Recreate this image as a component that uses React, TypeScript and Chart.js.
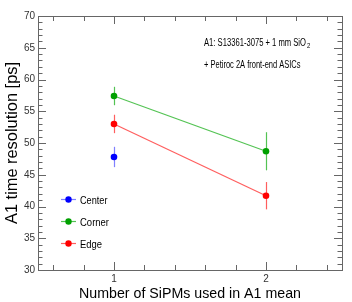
import React, { useEffect, useRef } from "react";
import { Chart, registerables } from "chart.js";

Chart.register(...registerables);

// ---- data ----
const seriesNames = ["Center", "Corner", "Edge"];
const seriesColors = ["#0000ff", "#00a000", "#ff0000"];
const seriesLineColors = ["rgba(60,60,255,0.65)", "rgba(40,180,40,0.8)", "rgba(255,40,40,0.75)"];

const xCenter = [1];
const yCenter = [47.8];
const eCenter = [1.6];

const xCorner = [1, 2];
const yCorner = [57.4, 48.7];
const eCorner = [1.45, 3.0];

const xEdge = [1, 2];
const yEdge = [53.0, 41.7];
const eEdge = [1.45, 2.15];

const yTickValues = [30, 35, 40, 45, 50, 55, 60, 65, 70];
const xTickValues = [1, 2];

const xTitle = "Number of SiPMs used in A1 mean";
const yTitle = "A1 time resolution [ps]";
const noteLine1 = "A1: S13361-3075 + 1 mm SiO";
const noteLine1Sub = "2";
const noteLine2 = "+ Petiroc 2A front-end ASICs";

const FONT = '"Liberation Sans", Arial, Helvetica, sans-serif';

function fitText(
  ctx: CanvasRenderingContext2D,
  text: string,
  x: number,
  y: number,
  size: number,
  width: number,
  align: "left" | "center" = "left"
) {
  ctx.font = `${size}px ${FONT}`;
  const w = ctx.measureText(text).width;
  const sx = width / w;
  ctx.save();
  ctx.translate(x, y);
  ctx.scale(sx, 1);
  ctx.textAlign = "left";
  ctx.textBaseline = "alphabetic";
  ctx.fillText(text, align === "center" ? -w / 2 : 0, 0);
  ctx.restore();
}

const rootPlugin = {
  id: "rootStyle",
  beforeDatasetsDraw(chart: any) {
    const ctx = chart.ctx as CanvasRenderingContext2D;
    const xs = chart.scales.x;
    const ys = chart.scales.y;
    const sets = [
      [xCenter, yCenter, eCenter],
      [xCorner, yCorner, eCorner],
      [xEdge, yEdge, eEdge],
    ];
    ctx.save();
    sets.forEach((s, i) => {
      const [xv, yv, ev] = s;
      ctx.strokeStyle = seriesLineColors[i];
      ctx.lineWidth = 1.2;
      xv.forEach((x, k) => {
        const px = Math.round(xs.getPixelForValue(x)) + 0.5;
        ctx.beginPath();
        ctx.moveTo(px, ys.getPixelForValue(yv[k] + ev[k]));
        ctx.lineTo(px, ys.getPixelForValue(yv[k] - ev[k]));
        ctx.stroke();
      });
    });
    ctx.restore();
  },
  afterDatasetsDraw(chart: any) {
    const ctx = chart.ctx as CanvasRenderingContext2D;
    const { left, right, top, bottom } = chart.chartArea;
    const xs = chart.scales.x;
    const ys = chart.scales.y;
    ctx.save();
    ctx.strokeStyle = "#666";
    ctx.lineWidth = 1;
    ctx.strokeRect(Math.round(left) + 0.5, Math.round(top) + 0.5, Math.round(right - left), Math.round(bottom - top));
    ctx.beginPath();
    // y ticks
    for (let v = 30; v <= 70; v += 1) {
      const py = Math.round(ys.getPixelForValue(v)) + 0.5;
      const len = v % 5 === 0 ? 8 : 4.5;
      ctx.moveTo(left, py);
      ctx.lineTo(left + len, py);
      ctx.moveTo(right, py);
      ctx.lineTo(right - len, py);
    }
    // x ticks
    for (let k = 3; k <= 12; k++) {
      const v = k * 0.2;
      const px = Math.round(xs.getPixelForValue(v)) + 0.5;
      const len = Math.abs(v - Math.round(v)) < 1e-6 ? 8 : 5;
      ctx.moveTo(px, bottom);
      ctx.lineTo(px, bottom - len);
      ctx.moveTo(px, top);
      ctx.lineTo(px, top + len);
    }
    ctx.stroke();
    ctx.restore();
  },
  afterDraw(chart: any) {
    const ctx = chart.ctx as CanvasRenderingContext2D;
    const { left, right, top, bottom } = chart.chartArea;
    ctx.save();
    ctx.fillStyle = "#000";
    // axis titles
    fitText(ctx, xTitle, (left + right) / 2, 298, 15, 222, "center");
    ctx.save();
    ctx.translate(16.5, (top + bottom) / 2);
    ctx.rotate(-Math.PI / 2);
    fitText(ctx, yTitle, 0, 0, 16.5, 162, "center");
    ctx.restore();

    // annotation
    fitText(ctx, noteLine1, 204, 46, 10, 102);
    ctx.font = `7px ${FONT}`;
    ctx.save();
    ctx.translate(307, 48);
    ctx.scale(0.85, 1);
    ctx.fillText(noteLine1Sub, 0, 0);
    ctx.restore();
    fitText(ctx, noteLine2, 204, 68, 10, 96.5);

    // legend
    const rows = [199.5, 221.5, 243.5];
    const widths = [27.5, 29, 22];
    seriesNames.forEach((name, i) => {
      const y = rows[i];
      ctx.strokeStyle = seriesLineColors[i];
      ctx.lineWidth = 1.2;
      ctx.beginPath();
      ctx.moveTo(61, y);
      ctx.lineTo(76, y);
      ctx.stroke();
      ctx.fillStyle = seriesColors[i];
      ctx.beginPath();
      ctx.arc(68.5, y, 3.2, 0, Math.PI * 2);
      ctx.fill();
      ctx.fillStyle = "#000";
      fitText(ctx, name, 80, y + 4, 11.5, widths[i]);
    });
    ctx.restore();
  },
};

export default function App() {
  const ref = useRef<HTMLCanvasElement | null>(null);
  useEffect(() => {
    document.body.style.margin = "0";
    const canvas = ref.current!;
    const mk = (xv: number[], yv: number[]) => xv.map((x, i) => ({ x, y: yv[i] }));
    const chart = new Chart(canvas, {
      type: "scatter",
      data: {
        datasets: [
          { label: seriesNames[0], data: mk(xCenter, yCenter), showLine: false },
          { label: seriesNames[1], data: mk(xCorner, yCorner), showLine: true },
          { label: seriesNames[2], data: mk(xEdge, yEdge), showLine: true },
        ].map((d, i) => ({
          ...d,
          borderColor: seriesLineColors[i],
          borderWidth: 1.2,
          backgroundColor: seriesColors[i],
          pointBackgroundColor: seriesColors[i],
          pointBorderWidth: 0,
          pointRadius: 3.3,
          pointHoverRadius: 3.3,
          tension: 0,
        })),
      },
      options: {
        animation: false,
        responsive: false,
        devicePixelRatio: 1,
        layout: { padding: { top: 16, right: 10, left: 0, bottom: 0 } },
        plugins: { legend: { display: false }, tooltip: { enabled: false } },
        events: [],
        scales: {
          x: {
            type: "linear",
            min: 0.5,
            max: 2.5,
            grid: { display: false, drawTicks: false },
            border: { display: false },
            afterBuildTicks: (s: any) => {
              s.ticks = xTickValues.map((v) => ({ value: v }));
            },
            afterFit: (s: any) => {
              s.height = 32;
            },
            ticks: {
              padding: 3,
              color: "#333",
              font: { family: FONT, size: 10 },
              callback: (v: any) => String(v),
              maxRotation: 0,
            },
          },
          y: {
            type: "linear",
            min: 30,
            max: 70,
            grid: { display: false, drawTicks: false },
            border: { display: false },
            afterBuildTicks: (s: any) => {
              s.ticks = yTickValues.map((v) => ({ value: v }));
            },
            afterFit: (s: any) => {
              s.width = 38;
            },
            ticks: {
              padding: 3,
              color: "#333",
              font: { family: FONT, size: 10 },
              callback: (v: any) => String(v),
            },
          },
        },
      },
      plugins: [rootPlugin],
    } as any);
    return () => chart.destroy();
  }, []);
  return <canvas ref={ref} width={352} height={302} style={{ display: "block", width: 352, height: 302 }} />;
}
